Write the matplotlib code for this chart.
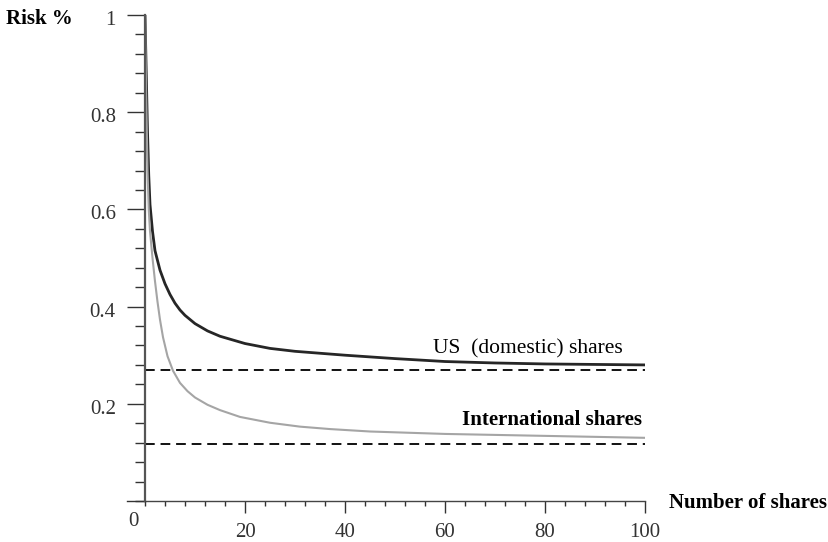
import matplotlib
matplotlib.use("Agg")
import matplotlib.pyplot as plt
from matplotlib.ticker import MultipleLocator
from matplotlib.transforms import ScaledTranslation

# Data
us_x = [0, 0.25, 0.5, 0.75, 1, 1.5, 2, 3, 4, 5, 6, 7, 8, 10, 12.5, 15, 20, 25, 30, 40, 50, 60,
        70, 80, 100]
us_y = [1.0, 0.88, 0.76, 0.67, 0.61, 0.555, 0.515, 0.475, 0.447, 0.425, 0.407, 0.393, 0.382,
        0.365, 0.350, 0.339, 0.324, 0.314, 0.308, 0.300, 0.293, 0.287, 0.284, 0.282, 0.280]

intl_x = [0, 0.25, 0.5, 0.75, 1, 1.5, 2, 2.5, 3, 3.6, 4.5, 5.6, 7, 8.5, 10, 12.5, 15, 19, 25,
          31, 37, 45, 60, 80, 100]
intl_y = [1.0, 0.83, 0.68, 0.60, 0.555, 0.50, 0.452, 0.410, 0.373, 0.337, 0.298, 0.268, 0.243,
          0.226, 0.213, 0.198, 0.187, 0.173, 0.161, 0.153, 0.148, 0.143, 0.138, 0.134, 0.130]

asymptotes = [0.27, 0.117]
series_labels = ["US  (domestic) shares", "International shares"]
x_ticks = [20, 40, 60, 80, 100]
y_ticks = [0.2, 0.4, 0.6, 0.8, 1.0]
y_tick_labels = ["0.2", "0.4", "0.6", "0.8", "1"]

serif = ["Liberation Serif", "DejaVu Serif"]
plt.rcParams["font.family"] = serif

fig = plt.figure(figsize=(8.29, 5.42), dpi=100)
ax = fig.add_axes([145/829, 1 - 501/542, 500/829, 486/542])

ax.plot(us_x, us_y, color="#262626", lw=2.0, solid_joinstyle="round")
ax.plot(intl_x, intl_y, color="#a5a5a5", lw=1.5, solid_joinstyle="round")
ax.hlines(asymptotes, 0, 100, colors="#111111", linestyles=(0, (5, 3)), lw=1.4)

ax.set_xlim(0, 100)
ax.set_ylim(0, 1)
for s in ["top", "right"]:
    ax.spines[s].set_visible(False)
ax.spines["left"].set_color("#555555")
ax.spines["left"].set_linewidth(1.6)
ax.spines["bottom"].set_color("#444444")
ax.spines["bottom"].set_linewidth(1.0)

ax.set_xticks(x_ticks)
ax.set_xticklabels([str(v) for v in x_ticks])
ax.xaxis.set_minor_locator(MultipleLocator(4))
ax.set_yticks(y_ticks)
ax.set_yticklabels(y_tick_labels)
ax.yaxis.set_minor_locator(MultipleLocator(0.04))

ax.tick_params(axis="y", which="major", length=13, width=1.0, color="#333333",
               labelsize=15, pad=8, labelcolor="#333333")
ax.tick_params(axis="y", which="minor", length=7, width=1.0, color="#333333")
ax.tick_params(axis="x", which="major", length=8.5, width=1.0, color="#333333",
               labelsize=15, pad=7, labelcolor="#333333")
ax.tick_params(axis="x", which="minor", length=3.6, width=1.0, color="#333333")

# y tick labels sit slightly below their ticks in the reference
off = ScaledTranslation(0, -3/100, fig.dpi_scale_trans)
for lab in ax.get_yticklabels():
    lab.set_transform(lab.get_transform() + off)

# extra major tick at y=0 extending left
ax.plot([-3.6, 0], [0, 0], color="#333333", lw=1.0, clip_on=False)

# origin label
fig.text(133/829, 1 - 521/542, "0", fontsize=15, color="#333333", ha="center", va="center")

# axis labels
fig.text(6/829, 1 - 19/542, "Risk %", fontsize=15, fontweight="bold", ha="left", va="center")
fig.text(669/829, 1 - 503/542, "Number of shares", fontsize=15, fontweight="bold",
         ha="left", va="center")

# series labels
ax.text(95.6, 0.313, series_labels[0], fontsize=15.5, ha="right", va="center")
ax.text(99.4, 0.166, series_labels[1], fontsize=15, fontweight="bold", ha="right", va="center")

fig.savefig("out.png", dpi=100)
